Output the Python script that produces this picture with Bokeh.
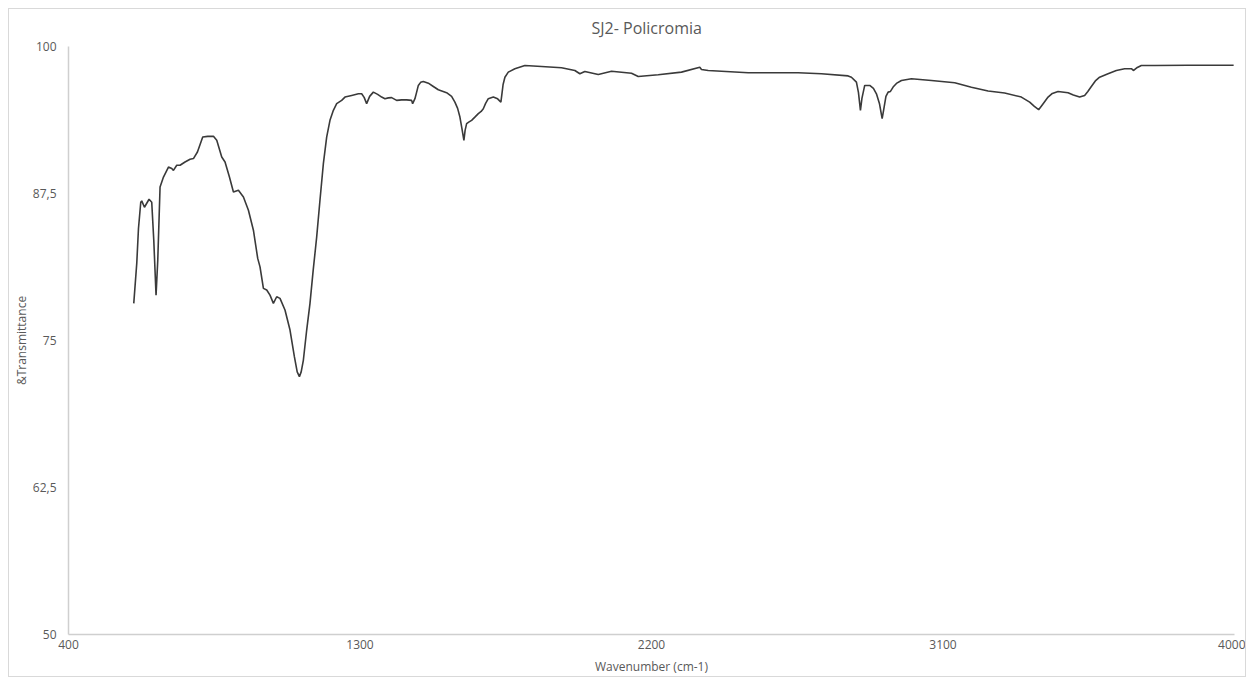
from bokeh.plotting import figure
from bokeh.models import FixedTicker, Range1d
from bokeh.embed import file_html
from bokeh.resources import INLINE

wavenumber = [601.5, 610.8, 616.0, 623.1, 626.2, 634.5, 648.7, 657.0, 663.3, 670.3, 675.6, 682.7,
              693.2, 708.6, 718.8, 724.0, 734.2, 744.4, 759.8, 775.3, 785.7, 798.1, 814.4, 829.9,
              847.5, 857.7, 873.1, 883.3, 896.9, 909.2, 924.6, 940.1, 955.5, 970.9, 984.2, 991.3,
              1001.8, 1012.0, 1022.1, 1032.6, 1042.8, 1053.0, 1068.4, 1083.9, 1097.4, 1106.1, 1112.9,
              1118.4, 1125.2, 1135.4, 1145.6, 1155.5, 1166.3, 1176.4, 1186.9, 1197.1, 1207.3, 1217.8,
              1228.0, 1243.4, 1253.6, 1274.3, 1295.0, 1305.1, 1312.8, 1320.5, 1329.8, 1341.2, 1354.5,
              1366.8, 1377.0, 1387.5, 1397.7, 1413.1, 1428.6, 1444.0, 1459.4, 1462.5, 1467.2, 1469.6,
              1474.9, 1480.1, 1487.2, 1495.5, 1511.0, 1526.4, 1541.8, 1567.4, 1582.8, 1593.0, 1601.4,
              1608.5, 1614.6, 1620.8, 1624.5, 1629.2, 1636.9, 1644.6, 1653.9, 1665.3, 1674.0, 1680.7,
              1687.8, 1696.1, 1711.6, 1724.9, 1735.0, 1738.8, 1741.8, 1747.4, 1757.8, 1778.2, 1809.1,
              1860.6, 1922.3, 1963.4, 1978.8, 1994.2, 2035.6, 2076.6, 2138.3, 2159.0, 2220.7, 2292.6,
              2349.1, 2354.3, 2375.0, 2498.5, 2652.8, 2724.7, 2807.1, 2817.3, 2832.7, 2838.9, 2845.1,
              2849.7, 2858.3, 2873.8, 2885.2, 2894.5, 2903.7, 2912.1, 2917.6, 2923.8, 2930.6, 2937.7,
              2946.0, 2956.2, 2971.7, 3002.5, 3064.3, 3136.2, 3187.7, 3239.2, 3290.4, 3342.0, 3367.6,
              3382.1, 3395.3, 3409.8, 3424.4, 3437.6, 3455.2, 3486.1, 3502.4, 3521.9, 3537.3, 3547.2,
              3558.0, 3570.3, 3583.6, 3609.5, 3635.2, 3660.8, 3681.5, 3688.6, 3700.0, 3712.4, 3753.4,
              3856.5, 3997.3]

transmittance = [78.16, 81.58, 84.5, 86.76, 86.87, 86.33, 87.01, 86.76, 83.53, 78.86, 81.83, 88.06,
                 88.90, 89.75, 89.62, 89.47, 89.90, 89.90, 90.18, 90.41, 90.47, 91.03, 92.30, 92.36,
                 92.36, 92.02, 90.60, 90.18, 88.90, 87.63, 87.78, 87.21, 86.08, 84.38, 81.98, 81.26,
                 79.43, 79.29, 78.86, 78.16, 78.72, 78.58, 77.59, 75.89, 73.62, 72.33, 71.93,
                 72.33, 73.34, 75.89, 78.16, 80.98, 83.81, 86.93, 90.04, 92.30, 93.72, 94.57,
                 95.14, 95.42, 95.70, 95.84, 95.98, 95.98, 95.67, 95.14, 95.76, 96.12, 95.93,
                 95.70, 95.56, 95.63, 95.65, 95.42, 95.46, 95.46, 95.42, 95.14, 95.42, 95.56,
                 96.12, 96.69, 96.95, 97.03, 96.88, 96.60, 96.32, 96.07, 95.76, 95.27, 94.74,
                 94.00, 93.04, 92.02, 92.87, 93.44, 93.59, 93.72, 93.97, 94.29, 94.48, 94.71,
                 95.16, 95.56, 95.70, 95.55, 95.27, 96.10, 96.77, 97.39, 97.82, 98.11, 98.39,
                 98.30, 98.19, 97.96, 97.68, 97.88, 97.62, 97.90, 97.73, 97.45, 97.60, 97.82,
                 98.24, 98.05, 97.96, 97.77, 97.77, 97.68, 97.50, 97.39, 96.97, 96.10, 94.57,
                 95.59, 96.69, 96.69, 96.44, 95.98, 95.16, 93.86, 94.74, 95.76, 96.12, 96.18,
                 96.55, 96.86, 97.11, 97.26, 97.11, 96.92, 96.54, 96.21, 96.04, 95.70, 95.27,
                 94.91, 94.63, 95.16, 95.70, 96.01, 96.18, 96.07, 95.88, 95.70, 95.84, 96.18,
                 96.60, 97.07, 97.39, 97.68, 97.96, 98.11, 98.11, 97.96, 98.22, 98.39, 98.39,
                 98.41, 98.41]

x_ticks = [400, 1300, 2200, 3100, 4000]
y_ticks = [50, 62.5, 75, 87.5, 100]
y_tick_labels = {50: "50", 62.5: "62,5", 75: "75", 87.5: "87,5", 100: "100"}
title_text = "SJ2- Policromia"

FONT = "Open Sans"
GREY = "#595959"

p = figure(width=1238, height=669, output_backend="svg", toolbar_location=None,
           x_range=Range1d(400, 4000), y_range=Range1d(50, 100),
           min_border_left=50, min_border_right=13, min_border_top=37, min_border_bottom=44,
           title=title_text)
p.styles = {"border": "1px solid #d9d9d9", "margin-left": "8px", "margin-top": "8px"}

p.line(wavenumber, transmittance, line_color="#3a3a3a", line_width=1.6)

p.title.text_font = FONT
p.title.text_font_size = "16px"
p.title.text_font_style = "normal"
p.title.text_color = GREY
p.title.align = "left"
p.title.offset = 523
p.title.vertical_align = "top"
p.title.standoff = 12

p.outline_line_color = None
p.xgrid.grid_line_color = None
p.ygrid.grid_line_color = None
p.background_fill_color = "white"
p.border_fill_color = "white"

for ax in (p.xaxis[0], p.yaxis[0]):
    ax.axis_line_color = "#cfcfcf"
    ax.axis_line_width = 1.5
    ax.major_tick_line_color = None
    ax.minor_tick_line_color = None
    ax.major_tick_out = 0
    ax.major_tick_in = 0
    ax.major_label_text_font = FONT
    ax.major_label_text_font_size = "12px"
    ax.major_label_text_color = GREY
    ax.axis_label_text_font = FONT
    ax.axis_label_text_font_size = "12px"
    ax.axis_label_text_font_style = "normal"
    ax.axis_label_text_color = GREY

p.xaxis[0].ticker = FixedTicker(ticks=x_ticks)
p.yaxis[0].ticker = FixedTicker(ticks=y_ticks)
p.yaxis[0].major_label_overrides = y_tick_labels
p.xaxis[0].axis_label = "Wavenumber (cm-1)"
p.yaxis[0].axis_label = "&Transmittance"
p.xaxis[0].major_label_standoff = 5
p.xaxis[0].axis_label_standoff = 6
p.yaxis[0].major_label_standoff = 12
p.yaxis[0].axis_label_standoff = 0

open("out.html", "w").write(file_html(p, INLINE))
